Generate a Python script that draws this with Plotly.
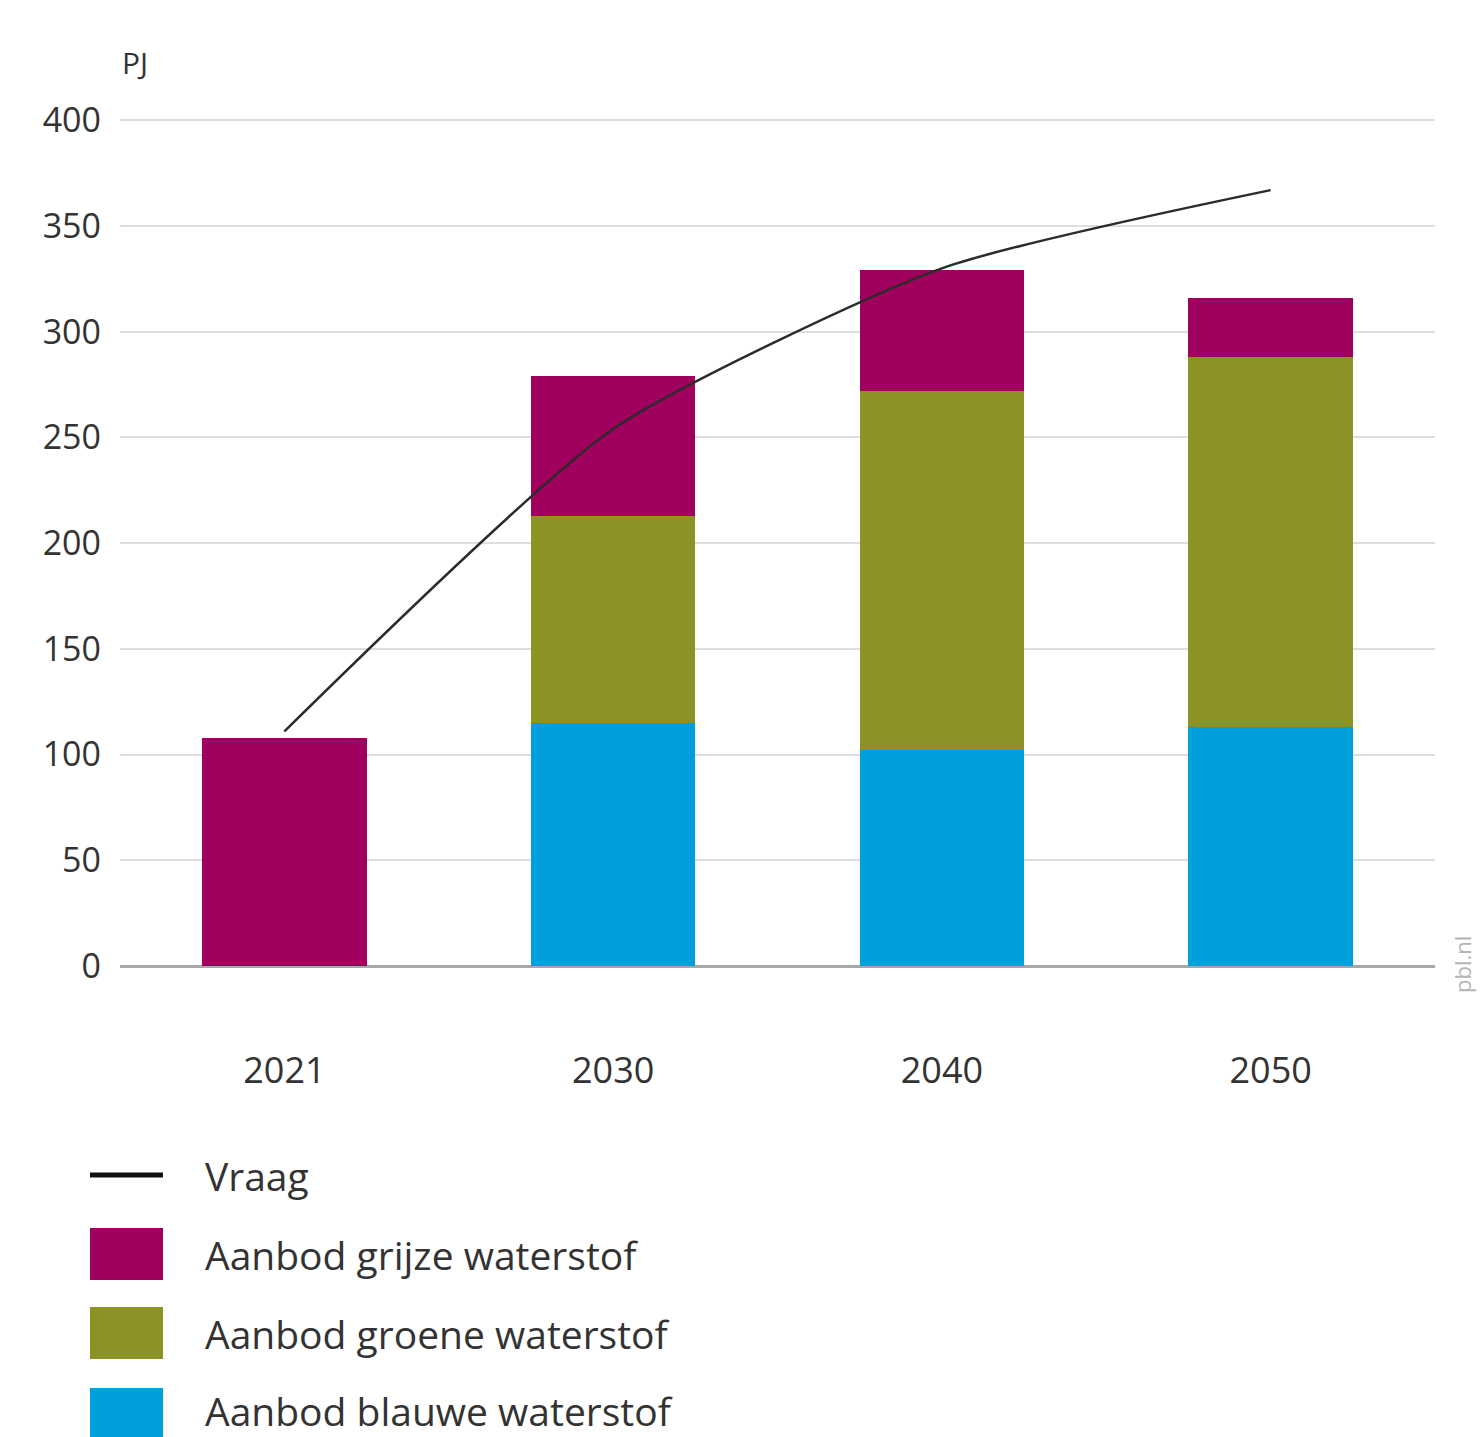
import plotly.graph_objects as go

# Data: hydrogen demand and supply in the Netherlands (PJ)
years = ["2021", "2030", "2040", "2050"]
aanbod_blauw = [0, 115, 102, 113]
aanbod_groen = [0, 98, 170, 175]
aanbod_grijs = [108, 66, 57, 28]
vraag = [111, 254, 330, 367]

y_ticks = [0, 50, 100, 150, 200, 250, 300, 350, 400]

series_names = {
    "vraag": "Vraag",
    "grijs": "Aanbod grijze waterstof",
    "groen": "Aanbod groene waterstof",
    "blauw": "Aanbod blauwe waterstof",
}
colors = {
    "vraag": "#2b2b2b",
    "grijs": "#A0005E",
    "groen": "#8D9224",
    "blauw": "#009FDD",
}

FONT = "Open Sans"
W, H = 1480, 1437
L, R, T, B = 120, 45, 114, 471
Y_MAX = 403

fig = go.Figure()
for key, vals in (("blauw", aanbod_blauw), ("groen", aanbod_groen), ("grijs", aanbod_grijs)):
    fig.add_trace(go.Bar(
        x=years, y=vals, name=series_names[key],
        marker=dict(color=colors[key], line=dict(width=0)),
        width=0.5, showlegend=False,
    ))

fig.add_trace(go.Scatter(
    x=years, y=vraag, name=series_names["vraag"], mode="lines",
    line=dict(color=colors["vraag"], width=2.5, shape="spline", smoothing=0.6),
    showlegend=False,
))

# pixel -> paper helpers for the hand-built legend
pw, ph = W - L - R, H - T - B


def px(x):
    return (x - L) / pw


def py(y):
    return (H - B - y) / ph


shapes = []
annotations = []
legend_rows = ["vraag", "grijs", "groen", "blauw"]
row_y = [1175, 1254, 1333, 1410]
for key, cy in zip(legend_rows, row_y):
    if key == "vraag":
        shapes.append(dict(type="line", xref="paper", yref="paper",
                           x0=px(90), x1=px(163), y0=py(cy), y1=py(cy),
                           line=dict(color="#111111", width=5)))
    else:
        sy = cy + (4 if key == "blauw" else 0)
        shapes.append(dict(type="rect", xref="paper", yref="paper",
                           x0=px(90), x1=px(163), y0=py(sy - 26), y1=py(sy + 26),
                           fillcolor=colors[key], line=dict(width=0)))
    annotations.append(dict(xref="paper", yref="paper", x=px(203), y=py(cy),
                            text=series_names[key], showarrow=False,
                            xanchor="left", yanchor="middle",
                            font=dict(family=FONT, size=39, color="#333333")))

annotations.append(dict(xref="paper", yref="paper", x=px(120), y=py(62),
                        text="PJ", showarrow=False, xanchor="left", yanchor="middle",
                        font=dict(family=FONT, size=30, color="#333333")))
annotations.append(dict(xref="paper", yref="paper", x=px(1462), y=py(965),
                        text="pbl.nl", showarrow=False, textangle=-90,
                        xanchor="center", yanchor="middle",
                        font=dict(family=FONT, size=22, color="#b5b5b5")))

fig.update_layout(
    width=W, height=H,
    margin=dict(l=L, r=R, t=T, b=B),
    paper_bgcolor="white", plot_bgcolor="white",
    barmode="stack", bargap=0.5,
    font=dict(family=FONT, color="#333333"),
    shapes=shapes, annotations=annotations,
    xaxis=dict(
        type="category", range=[-0.5, 3.5], showgrid=False,
        showline=False, ticks="", tickfont=dict(size=36, color="#333333"),
        ticklabelstandoff=80,
    ),
    yaxis=dict(
        range=[0, Y_MAX], tickvals=y_ticks, showgrid=True,
        gridcolor="#dedede", gridwidth=1.5,
        zeroline=True, zerolinecolor="#a8a8a8", zerolinewidth=2.5,
        showline=False, ticks="", tickfont=dict(size=34, color="#333333"),
        ticklabelstandoff=18,
    ),
)

fig.write_html("out.html")
